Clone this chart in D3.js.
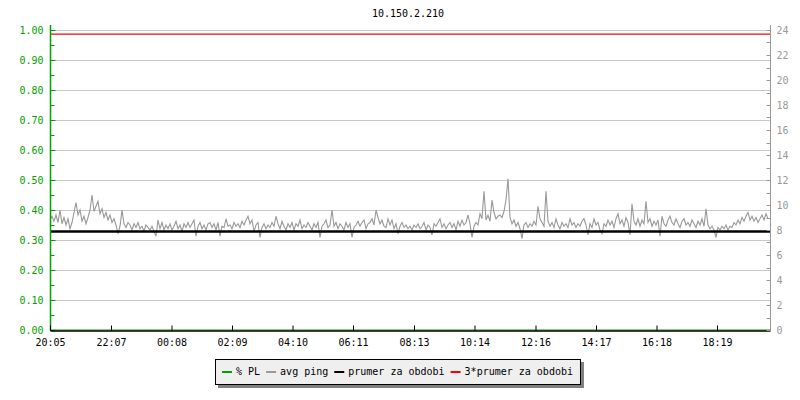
<!DOCTYPE html>
<html>
<head>
<meta charset="utf-8">
<script src="https://cdn.jsdelivr.net/npm/d3@7"></script>
<style>
body { margin: 0; background: #fff; }
svg { display: block; font-family: "DejaVu Sans Mono", monospace; font-size: 10px; }
</style>
</head>
<body>
<div></div>
<script>
var width = 800;
var height = 400;

var title = "10.150.2.210";
var startTime = "20:05";
var stepMinutes = 4;
var timeLabels = ["20:05", "22:07", "00:08", "02:09", "04:10", "06:11", "08:13", "10:14", "12:16", "14:17", "16:18", "18:19"];
var leftTicks = [0, 0.1, 0.2, 0.3, 0.4, 0.5, 0.6, 0.7, 0.8, 0.9, 1.0];
var rightTicks = [0, 2, 4, 6, 8, 10, 12, 14, 16, 18, 20, 22, 24];
var legendLabels = ["% PL", "avg ping", "prumer za obdobi", "3*prumer za obdobi"];

var packetLoss = 0;
var meanPing = 7.89;
var tripleMean = 23.67;

// avg ping (ms), one sample every 4 minutes
var avgPing = [
	8.8, 9.1, 8.7, 9.2, 8.6, 9.6, 8.5, 9.0, 8.4, 8.9,
	8.1, 8.6, 9.4, 10.2, 9.2, 9.6, 8.7, 9.1, 8.5, 9.0,
	9.6, 10.8, 9.5, 9.9, 10.3, 9.3, 9.7, 9.0, 9.4, 8.8,
	9.2, 8.6, 8.9, 8.4, 7.7, 8.3, 9.6, 8.5, 8.2, 8.6,
	8.4, 8.0, 8.5, 8.2, 8.6, 8.1, 8.3, 7.9, 8.4, 8.2,
	8.0, 8.3, 7.9, 7.5, 8.8, 8.1, 8.6, 8.0, 8.4, 8.1,
	8.5, 8.0, 8.3, 8.7, 8.1, 8.4, 7.9, 8.5, 8.2, 8.6,
	8.2, 8.5, 8.8, 7.5, 8.3, 8.6, 8.1, 8.4, 8.0, 8.5,
	8.6, 8.2, 8.5, 8.0, 8.6, 7.5, 8.3, 8.2, 8.9, 8.3,
	8.4, 8.1, 8.6, 8.3, 8.5, 8.2, 8.7, 8.4, 8.8, 9.1,
	8.5, 8.8, 7.9, 8.4, 8.6, 7.4, 8.2, 8.5, 8.1, 8.4,
	8.2, 8.6, 8.3, 9.1, 8.5, 8.1, 8.7, 8.3, 8.0, 8.5,
	8.2, 8.6, 8.0, 8.5, 8.3, 8.8, 8.1, 8.4, 8.2, 8.6,
	8.3, 8.0, 8.5, 8.2, 8.6, 7.4, 8.3, 8.5, 8.8, 8.2,
	8.4, 9.6, 8.3, 8.6, 8.1, 8.5, 8.3, 8.0, 8.6, 8.2,
	8.5, 7.4, 8.2, 8.4, 8.7, 8.3, 8.6, 8.8, 8.1, 8.5,
	8.6, 8.9, 8.4, 9.6, 9.0, 8.5, 8.8, 8.3, 8.2, 8.9,
	8.4, 8.8, 8.1, 8.5, 7.7, 8.3, 8.6, 8.2, 8.4, 8.1,
	8.3, 8.0, 8.4, 8.2, 8.5, 8.1, 8.3, 8.6, 8.0, 8.4,
	8.2, 7.6, 8.5, 8.3, 8.6, 8.9, 8.2, 8.5, 8.1, 8.4,
	8.6, 8.2, 8.5, 8.0, 8.7, 8.3, 8.8, 8.4, 8.6, 9.2,
	8.5, 7.4, 8.3, 8.6, 8.4, 9.3, 8.9, 11.1, 8.8, 9.2,
	8.7, 10.4, 9.4, 8.9, 9.1, 9.2, 9.0, 9.5, 10.4, 12.1,
	9.0, 8.5, 8.8, 8.3, 8.6, 8.1, 7.3, 8.4, 8.6, 8.2,
	8.5, 8.3, 8.7, 8.4, 9.9, 8.9, 8.6, 8.3, 11.1, 8.7,
	8.3, 8.6, 8.2, 8.9, 8.4, 8.1, 8.6, 8.3, 8.5, 8.2,
	8.9, 8.4, 8.6, 8.2, 8.5, 8.3, 8.7, 8.9, 8.4, 7.6,
	8.5, 8.2, 8.9, 8.4, 8.6, 8.0, 7.7, 8.5, 8.3, 8.8,
	8.4, 8.7, 8.2, 8.9, 9.3, 8.5, 8.8, 8.3, 9.0, 8.6,
	7.6, 10.1, 8.7, 8.4, 8.9, 8.3, 8.8, 8.5, 10.3, 8.6,
	8.9, 8.3, 8.7, 8.4, 8.8, 7.5, 9.1, 8.5, 8.3, 8.8,
	9.1, 8.6, 8.4, 8.9, 8.5, 8.2, 8.7, 8.9, 8.4, 8.6,
	8.3, 8.8, 8.5, 8.2, 8.7, 8.4, 8.9, 8.3, 9.7, 8.4,
	8.1, 8.3, 8.0, 7.4, 8.2, 8.0, 8.3, 8.1, 8.4, 8.0,
	8.3, 8.2, 8.6, 8.4, 8.8, 8.5, 9.0, 8.7, 9.1, 9.4,
	8.8, 9.1, 8.7, 9.0, 8.6, 8.9, 9.2, 8.8, 9.3, 8.9
];

var green = "#00a000";
var grey = "#999999";

var svg = d3.select("div")
	.append("svg")
	.attr("width", width)
	.attr("height", height);

var plotLeft = 50, plotRight = 770, plotTop = 30, plotBottom = 330;

var parseTime = d3.timeParse("%H:%M");
var start = parseTime(startTime);
var end = d3.timeDay.offset(start, 1);

var toTime = (label) => {
	var t = parseTime(label);
	if (t < start) t = d3.timeDay.offset(t, 1);
	return t;
}

var x = d3.scaleTime().domain([start, end]).range([plotLeft, plotRight]);
var yLeft = d3.scaleLinear().domain([0, 1]).range([plotBottom, plotTop]);
var yRight = d3.scaleLinear().domain([0, 24]).range([plotBottom, plotTop]);

// title
svg.append("text")
	.attr("x", 408)
	.attr("y", 17)
	.attr("text-anchor", "middle")
	.attr("fill", "#000")
	.text(title);

// grid lines
svg.append("g")
	.selectAll("line")
	.data(leftTicks.slice(1))
	.enter()
	.append("line")
	.attr("x1", plotLeft)
	.attr("x2", plotRight)
	.attr("y1", d => Math.round(yLeft(d)) + 0.5)
	.attr("y2", d => Math.round(yLeft(d)) + 0.5)
	.attr("stroke", "#c8c8c8")
	.attr("stroke-width", 1);

// % PL
svg.append("line")
	.attr("x1", plotLeft).attr("x2", plotRight)
	.attr("y1", yLeft(packetLoss)).attr("y2", yLeft(packetLoss))
	.attr("stroke", green).attr("stroke-width", 1);

// avg ping
var pingPoints = avgPing.map((v, i) => ({ t: d3.timeMinute.offset(start, i * stepMinutes), v: v }));
var line = d3.line().x(d => x(d.t)).y(d => yRight(d.v));
svg.append("path")
	.datum(pingPoints)
	.attr("d", line)
	.attr("fill", "none")
	.attr("stroke", grey)
	.attr("stroke-width", 1.1);

// mean lines
svg.append("line")
	.attr("x1", plotLeft).attr("x2", plotRight)
	.attr("y1", yRight(meanPing)).attr("y2", yRight(meanPing))
	.attr("stroke", "#000").attr("stroke-width", 2.5);

svg.append("line")
	.attr("x1", plotLeft).attr("x2", plotRight)
	.attr("y1", yRight(tripleMean)).attr("y2", yRight(tripleMean))
	.attr("stroke", "#ff0000").attr("stroke-width", 1.2);

// left axis
var leftAxis = d3.axisLeft(yLeft)
	.tickValues(leftTicks)
	.tickFormat(d3.format(".2f"))
	.tickSize(0)
	.tickPadding(7);
var gl = svg.append("g").attr("transform", "translate(" + (plotLeft + 0.5) + ",0)").call(leftAxis);
gl.select(".domain").remove();
gl.selectAll("text").attr("fill", green).style("font-size", "10px").style("font-family", "DejaVu Sans Mono");
var leftMinor = d3.range(0, 1.0001, 0.05);
gl.selectAll(".mtick")
	.data(leftMinor)
	.enter()
	.append("line")
	.attr("x1", 0)
	.attr("x2", (d, i) => i % 2 == 0 ? 5 : 4)
	.attr("y1", d => Math.round(yLeft(d)) + 0.5)
	.attr("y2", d => Math.round(yLeft(d)) + 0.5)
	.attr("stroke", green);
gl.append("line")
	.attr("x1", 0).attr("x2", 0)
	.attr("y1", 25).attr("y2", plotBottom + 1)
	.attr("stroke", green).attr("stroke-width", 1.5);

// bottom axis
var bottomAxis = d3.axisBottom(x)
	.tickValues(timeLabels.map(toTime))
	.tickFormat(d3.timeFormat("%H:%M"))
	.tickSizeInner(-5)
	.tickSizeOuter(0)
	.tickPadding(8);
var gb = svg.append("g").attr("transform", "translate(0," + (plotBottom + 0.5) + ")").call(bottomAxis);
gb.select(".domain").attr("stroke", "#000").attr("stroke-width", 1.5);
gb.selectAll(".tick line").attr("stroke", "#000");
gb.selectAll("text").attr("fill", "#000").style("font-size", "10px").style("font-family", "DejaVu Sans Mono");

// right axis
var rightAxis = d3.axisRight(yRight)
	.tickValues(rightTicks)
	.tickFormat(d3.format("d"))
	.tickSize(0)
	.tickPadding(6);
var gr = svg.append("g").attr("transform", "translate(" + (plotRight + 0.5) + ",0)").call(rightAxis);
gr.select(".domain").remove();
gr.selectAll("text").attr("fill", grey).style("font-size", "10px").style("font-family", "DejaVu Sans Mono");
gr.selectAll(".mtick")
	.data(d3.range(0, 25))
	.enter()
	.append("line")
	.attr("x1", -4)
	.attr("x2", 0)
	.attr("y1", d => Math.round(yRight(d)) + 0.5)
	.attr("y2", d => Math.round(yRight(d)) + 0.5)
	.attr("stroke", grey);
gr.append("line")
	.attr("x1", 0).attr("x2", 0)
	.attr("y1", 25).attr("y2", plotBottom + 1)
	.attr("stroke", grey);

// legend
var legendColors = [green, grey, "#000", "#ff0000"];
var legend = svg.append("g");
var lx = 215, ly = 359, lh = 25;
var shadow = legend.append("rect").attr("fill", "#808080");
var box = legend.append("rect").attr("fill", "#efefef").attr("stroke", "#000");
var cx = lx + 7;
legendLabels.forEach((label, i) => {
	legend.append("line")
		.attr("x1", cx).attr("x2", cx + 10)
		.attr("y1", ly + 13).attr("y2", ly + 13)
		.attr("stroke", legendColors[i]).attr("stroke-width", 2);
	var t = legend.append("text")
		.attr("x", cx + 14)
		.attr("y", ly + 16)
		.attr("fill", "#000")
		.text(label);
	cx = cx + 14 + t.node().getComputedTextLength() + 6;
});
var lw = cx - 6 + 7 - lx;
box.attr("x", lx + 0.5).attr("y", ly + 0.5).attr("width", lw).attr("height", lh);
shadow.attr("x", lx + 3).attr("y", ly + 3).attr("width", lw + 1).attr("height", lh + 1);
</script>
</body>
</html>
